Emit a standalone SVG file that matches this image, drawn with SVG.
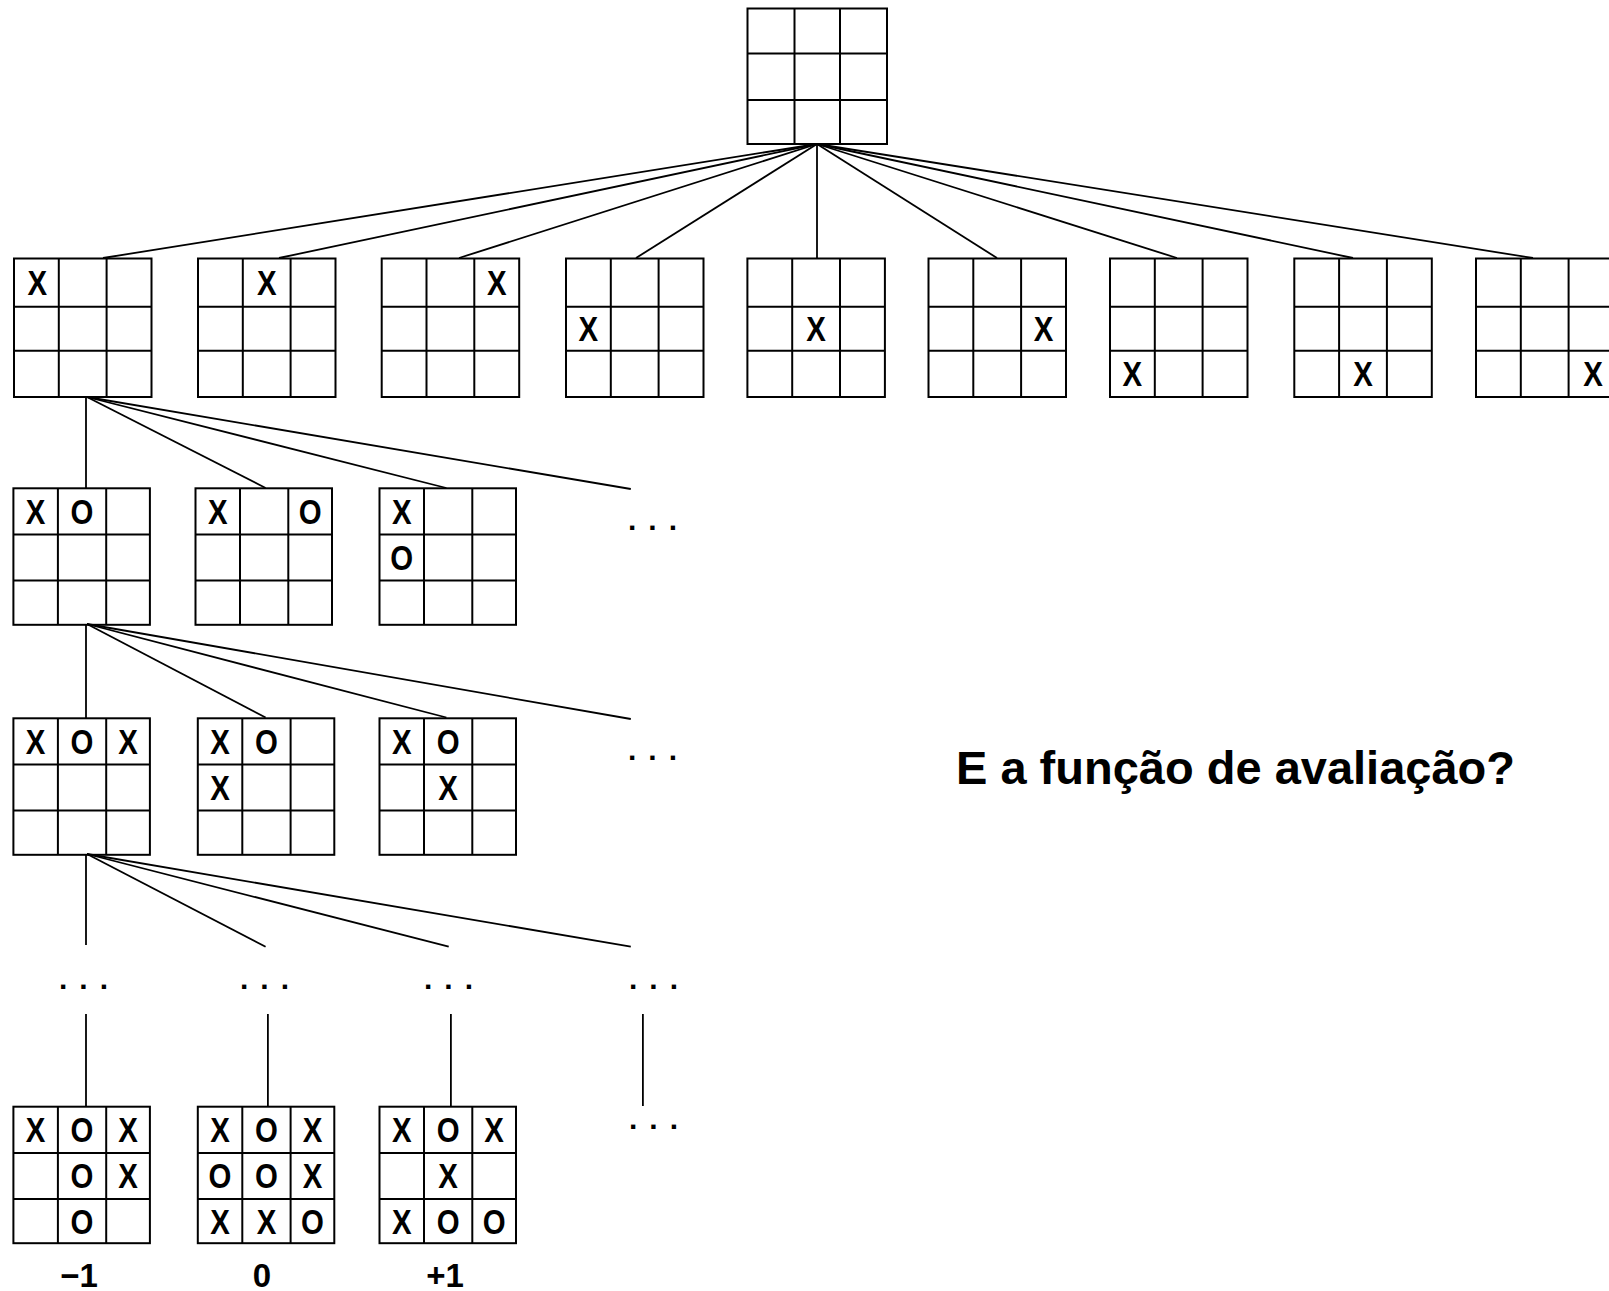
<svg xmlns="http://www.w3.org/2000/svg" xmlns:xlink="http://www.w3.org/1999/xlink" width="1609" height="1291" viewBox="0 0 1609 1291">
<style>
.gl{fill:none;stroke:#000;stroke-width:2}
.c{fill:none;stroke:#000;stroke-width:1.8}
.m{font-family:"Liberation Sans",Arial,sans-serif;font-size:35px;font-weight:bold;text-anchor:middle;fill:#000;transform-box:fill-box;transform-origin:center;transform:scaleX(0.84)}
.d{font-family:"Liberation Sans",Arial,sans-serif;font-size:30px;font-weight:bold;letter-spacing:12px;fill:#000}
.v{font-family:"Liberation Sans",Arial,sans-serif;font-size:33px;font-weight:bold;text-anchor:middle;fill:#000}
.q{font-family:"Liberation Sans",Arial,sans-serif;font-size:47px;font-weight:bold;fill:#000}
</style>
<defs>
<g id="g1" class="gl"><rect x="0" y="0" width="137.5" height="138.5"/><line x1="44.8" y1="0" x2="44.8" y2="138.5"/><line x1="92.6" y1="0" x2="92.6" y2="138.5"/><line x1="0" y1="48.3" x2="137.5" y2="48.3"/><line x1="0" y1="92.3" x2="137.5" y2="92.3"/></g>
<g id="g2" class="gl"><rect x="0" y="0" width="136.5" height="136.5"/><line x1="44.5" y1="0" x2="44.5" y2="136.5"/><line x1="92.8" y1="0" x2="92.8" y2="136.5"/><line x1="0" y1="46.3" x2="136.5" y2="46.3"/><line x1="0" y1="92.3" x2="136.5" y2="92.3"/></g>
</defs>
<rect width="1609" height="1291" fill="#fff"/>
<g id="connectors" class="c">
<line x1="817" y1="144" x2="103" y2="258"/>
<line x1="817" y1="144" x2="279" y2="258"/>
<line x1="817" y1="144" x2="459" y2="258"/>
<line x1="817" y1="144" x2="636" y2="258"/>
<line x1="817" y1="144" x2="817" y2="258"/>
<line x1="817" y1="144" x2="997" y2="258"/>
<line x1="817" y1="144" x2="1177" y2="258"/>
<line x1="817" y1="144" x2="1353" y2="258"/>
<line x1="817" y1="144" x2="1533" y2="258"/>
<line x1="86" y1="397" x2="86" y2="488"/>
<line x1="87" y1="397" x2="265.6" y2="488"/>
<line x1="87" y1="397" x2="446.4" y2="488"/>
<line x1="87" y1="397" x2="630.8" y2="489"/>
<line x1="86" y1="624" x2="86" y2="718"/>
<line x1="87" y1="624" x2="265.6" y2="717.5"/>
<line x1="87" y1="624" x2="446.4" y2="717.5"/>
<line x1="87" y1="624" x2="630.8" y2="719"/>
<line x1="86" y1="854" x2="86" y2="945"/>
<line x1="87" y1="854" x2="265.6" y2="946.7"/>
<line x1="87" y1="854" x2="448.7" y2="946.7"/>
<line x1="87" y1="854" x2="630.8" y2="946.7"/>
<line x1="86" y1="1014" x2="86" y2="1106.7"/>
<line x1="267.9" y1="1014" x2="267.9" y2="1106.7"/>
<line x1="450.9" y1="1014" x2="450.9" y2="1106.7"/>
<line x1="642.9" y1="1014" x2="642.9" y2="1106"/>
</g>
<g id="root" class="gl"><rect x="747.5" y="8.5" width="139.5" height="135.5"/><line x1="794.5" y1="8.5" x2="794.5" y2="144"/><line x1="840" y1="8.5" x2="840" y2="144"/><line x1="747.5" y1="53.5" x2="887" y2="53.5"/><line x1="747.5" y1="100" x2="887" y2="100"/></g>
<g id="l1-1" transform="translate(14,258.5)"><use href="#g1"/><text class="m" x="23.4" y="36.6">X</text></g>
<g id="l1-2" transform="translate(198,258.5)"><use href="#g1"/><text class="m" x="68.7" y="36.6">X</text></g>
<g id="l1-3" transform="translate(381.7,258.5)"><use href="#g1"/><text class="m" x="115" y="36.6">X</text></g>
<g id="l1-4" transform="translate(566,258.5)"><use href="#g1"/><text class="m" x="22.4" y="82.8">X</text></g>
<g id="l1-5" transform="translate(747.4,258.5)"><use href="#g1"/><text class="m" x="68.7" y="82.8">X</text></g>
<g id="l1-6" transform="translate(928.5,258.5)"><use href="#g1"/><text class="m" x="115" y="82.8">X</text></g>
<g id="l1-7" transform="translate(1110,258.5)"><use href="#g1"/><text class="m" x="22.4" y="127.9">X</text></g>
<g id="l1-8" transform="translate(1294.3,258.5)"><use href="#g1"/><text class="m" x="68.7" y="127.9">X</text></g>
<g id="l1-9" transform="translate(1476,258.5)"><use href="#g1"/><text class="m" x="117" y="127.9">X</text></g>
<g id="l2-1" transform="translate(13.4,488.3)"><use href="#g2"/><text class="m" x="22.2" y="35.7">X</text><text class="m" x="68.6" y="35.7">O</text></g>
<g id="l2-2" transform="translate(195.5,488.3)"><use href="#g2"/><text class="m" x="22.2" y="35.7">X</text><text class="m" x="114.6" y="35.7">O</text></g>
<g id="l2-3" transform="translate(379.5,488.3)"><use href="#g2"/><text class="m" x="22.2" y="35.7">X</text><text class="m" x="22.2" y="81.8">O</text></g>
<g id="l3-1" transform="translate(13.4,718.3)"><use href="#g2"/><text class="m" x="22.2" y="35.7">X</text><text class="m" x="68.6" y="35.7">O</text><text class="m" x="114.6" y="35.7">X</text></g>
<g id="l3-2" transform="translate(197.8,718.3)"><use href="#g2"/><text class="m" x="22.2" y="35.7">X</text><text class="m" x="68.6" y="35.7">O</text><text class="m" x="22.2" y="81.8">X</text></g>
<g id="l3-3" transform="translate(379.5,718.3)"><use href="#g2"/><text class="m" x="22.2" y="35.7">X</text><text class="m" x="68.6" y="35.7">O</text><text class="m" x="68.6" y="81.8">X</text></g>
<g id="l4-1" transform="translate(13.4,1106.7)"><use href="#g2"/><text class="m" x="22.2" y="35.7">X</text><text class="m" x="68.6" y="35.7">O</text><text class="m" x="114.6" y="35.7">X</text><text class="m" x="68.6" y="81.8">O</text><text class="m" x="114.6" y="81.8">X</text><text class="m" x="68.6" y="126.9">O</text></g>
<g id="l4-2" transform="translate(197.8,1106.7)"><use href="#g2"/><text class="m" x="22.2" y="35.7">X</text><text class="m" x="68.6" y="35.7">O</text><text class="m" x="114.6" y="35.7">X</text><text class="m" x="22.2" y="81.8">O</text><text class="m" x="68.6" y="81.8">O</text><text class="m" x="114.6" y="81.8">X</text><text class="m" x="22.2" y="126.9">X</text><text class="m" x="68.6" y="126.9">X</text><text class="m" x="114.6" y="126.9">O</text></g>
<g id="l4-3" transform="translate(379.5,1106.7)"><use href="#g2"/><text class="m" x="22.2" y="35.7">X</text><text class="m" x="68.6" y="35.7">O</text><text class="m" x="114.6" y="35.7">X</text><text class="m" x="68.6" y="81.8">X</text><text class="m" x="22.2" y="126.9">X</text><text class="m" x="68.6" y="126.9">O</text><text class="m" x="114.6" y="126.9">O</text></g>
<g id="ellipses">
<text class="d" x="628" y="530.4">...</text>
<text class="d" x="628" y="760.4">...</text>
<text class="d" x="59" y="988.8">...</text>
<text class="d" x="240" y="988.8">...</text>
<text class="d" x="424" y="988.8">...</text>
<text class="d" x="629" y="988.8">...</text>
<text class="d" x="629" y="1128.8">...</text>
</g>
<g id="values">
<text class="v" x="79" y="1287">−1</text>
<text class="v" x="262" y="1287">0</text>
<text class="v" x="445" y="1287">+1</text>
</g>
<g id="question"><text class="q" x="956" y="784">E a função de avaliação?</text></g>
</svg>
